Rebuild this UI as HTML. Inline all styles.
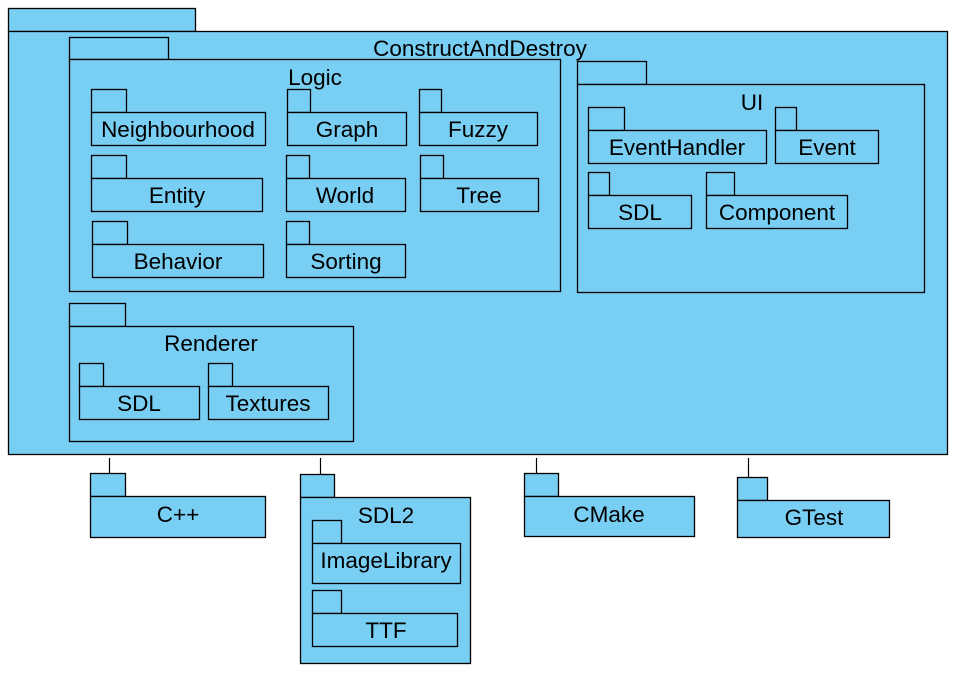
<!DOCTYPE html>
<html><head><meta charset="utf-8"><style>
html,body{margin:0;padding:0;background:#fff;width:958px;height:674px;overflow:hidden}
svg{display:block}
rect{fill:#79CEF4;stroke:#000;stroke-width:1.3}
text{font-family:"Liberation Sans",Arial,sans-serif;font-size:22.5px;fill:#000;text-anchor:middle}
line{stroke:#000;stroke-width:1.2}
</style></head><body>
<svg width="958" height="674" viewBox="0 0 958 674" xmlns="http://www.w3.org/2000/svg">
<rect x="8.5" y="8.5" width="187" height="23"/>
<rect x="8.5" y="31.5" width="939" height="423"/>
<text x="480" y="56">ConstructAndDestroy</text>
<rect x="69.5" y="37.5" width="99" height="22"/>
<rect x="69.5" y="59.5" width="491" height="232"/>
<text x="315" y="85">Logic</text>
<rect x="91.5" y="89.5" width="35" height="23"/><rect x="91.5" y="112.5" width="174" height="33"/><text x="178" y="137">Neighbourhood</text>
<rect x="287.5" y="89.5" width="23" height="23"/><rect x="287.5" y="112.5" width="119" height="33"/><text x="347" y="137">Graph</text>
<rect x="419.5" y="89.5" width="22" height="23"/><rect x="419.5" y="112.5" width="118" height="33"/><text x="478" y="137">Fuzzy</text>
<rect x="91.5" y="155.5" width="35" height="23"/><rect x="91.5" y="178.5" width="171" height="33"/><text x="177" y="203">Entity</text>
<rect x="286.5" y="155.5" width="23" height="23"/><rect x="286.5" y="178.5" width="119" height="33"/><text x="345" y="203">World</text>
<rect x="420.5" y="155.5" width="23" height="23"/><rect x="420.5" y="178.5" width="118" height="33"/><text x="479" y="203">Tree</text>
<rect x="92.5" y="221.5" width="35" height="23"/><rect x="92.5" y="244.5" width="171" height="33"/><text x="178" y="269">Behavior</text>
<rect x="286.5" y="221.5" width="23" height="23"/><rect x="286.5" y="244.5" width="119" height="33"/><text x="346" y="269">Sorting</text>
<rect x="577.5" y="61.5" width="69" height="23"/>
<rect x="577.5" y="84.5" width="347" height="208"/>
<text x="752" y="110">UI</text>
<rect x="588.5" y="107.5" width="36" height="23"/><rect x="588.5" y="130.5" width="178" height="33"/><text x="677" y="155">EventHandler</text>
<rect x="775.5" y="107.5" width="21" height="23"/><rect x="775.5" y="130.5" width="103" height="33"/><text x="827" y="155">Event</text>
<rect x="588.5" y="172.5" width="21" height="23"/><rect x="588.5" y="195.5" width="103" height="33"/><text x="640" y="220">SDL</text>
<rect x="706.5" y="172.5" width="28" height="23"/><rect x="706.5" y="195.5" width="141" height="33"/><text x="777" y="220">Component</text>
<rect x="69.5" y="303.5" width="56" height="23"/>
<rect x="69.5" y="326.5" width="284" height="115"/>
<text x="211" y="351">Renderer</text>
<rect x="79.5" y="363.5" width="24" height="23"/><rect x="79.5" y="386.5" width="120" height="33"/><text x="139" y="411">SDL</text>
<rect x="208.5" y="363.5" width="24" height="23"/><rect x="208.5" y="386.5" width="120" height="33"/><text x="268" y="411">Textures</text>
<line x1="109.5" y1="458" x2="109.5" y2="474"/>
<rect x="90.5" y="473.5" width="35" height="23"/><rect x="90.5" y="496.5" width="175" height="41"/><text x="178" y="522">C++</text>
<line x1="320.5" y1="458" x2="320.5" y2="475"/>
<rect x="300.5" y="474.5" width="34" height="23"/><rect x="300.5" y="497.5" width="170" height="166"/><text x="386" y="523">SDL2</text>
<rect x="312.5" y="520.5" width="29" height="23"/><rect x="312.5" y="543.5" width="148" height="40"/><text x="386" y="568">ImageLibrary</text>
<rect x="312.5" y="590.5" width="29" height="23"/><rect x="312.5" y="613.5" width="145" height="33"/><text x="386" y="638">TTF</text>
<line x1="536.5" y1="458" x2="536.5" y2="474"/>
<rect x="524.5" y="473.5" width="34" height="23"/><rect x="524.5" y="496.5" width="170" height="40"/><text x="609" y="522">CMake</text>
<line x1="748.5" y1="458" x2="748.5" y2="478"/>
<rect x="737.5" y="477.5" width="30" height="23"/><rect x="737.5" y="500.5" width="152" height="37"/><text x="814" y="525">GTest</text>
</svg>
</body></html>
